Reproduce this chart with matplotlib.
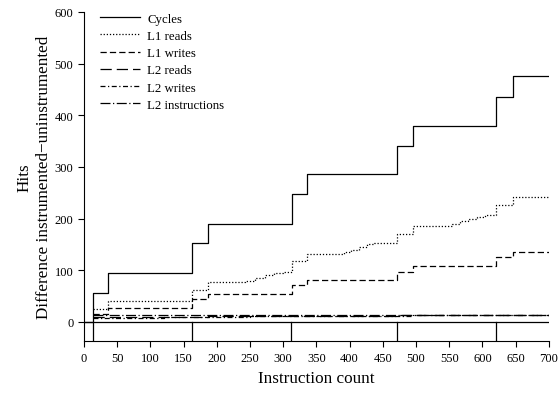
import matplotlib
matplotlib.use("Agg")
import matplotlib.pyplot as plt

plt.rcParams['font.family'] = ['Liberation Serif', 'DejaVu Serif']

# ---- data ----
cyc_x = [0, 14, 37, 163, 187, 313, 336, 471, 496, 621, 646, 700]
cyc_y = [0, 57, 95, 153, 190, 248, 287, 341, 380, 436, 476, 476]

l1r_x = [14, 37, 163, 187, 243, 258, 272, 286, 300, 313, 336, 391, 402, 414, 426, 437, 471, 496, 554, 566, 578, 592, 604, 621, 646, 700]
l1r_y = [25, 41, 62, 77, 80, 85, 90, 94, 97, 118, 132, 135, 140, 145, 150, 153, 171, 186, 190, 195, 200, 204, 207, 226, 242, 242]

l1w_x = [14, 37, 163, 187, 313, 336, 471, 496, 621, 646, 700]
l1w_y = [15, 27, 45, 54, 71, 81, 97, 108, 125, 136, 136]

l2r_x = [14, 37, 163, 187, 313, 336, 471, 496, 621, 646, 700]
l2r_y = [9, 10, 10, 11, 12, 12, 13, 13, 14, 14, 14]

l2w_x = [14, 37, 120, 163, 187, 250, 313, 336, 471, 496, 621, 646, 700]
l2w_y = [7, 8, 9, 9, 10, 11, 11, 12, 12, 13, 13, 14, 14]

l2i_x = [14, 700]
l2i_y = [13, 13]

marks_x = [14, 163, 312, 471, 621]

xticks = list(range(0, 701, 50))
yticks = list(range(0, 601, 100))

# ---- figure ----
fig = plt.figure(figsize=(5.59, 4.02), dpi=100)
ax = fig.add_axes([0.150, 0.149, 0.832, 0.819])

lw = 0.9
ax.step(cyc_x, cyc_y, where='post', color='black', lw=lw, ls='-', label='Cycles')
ax.step(l1r_x, l1r_y, where='post', color='black', lw=lw, ls=(0, (1, 1.5)), label='L1 reads')
ax.step(l1w_x, l1w_y, where='post', color='black', lw=lw, ls=(0, (5, 2.5)), label='L1 writes')
ax.step(l2r_x, l2r_y, where='post', color='black', lw=lw, ls=(0, (9, 4)), label='L2 reads')
ax.step(l2w_x, l2w_y, where='post', color='black', lw=lw, ls=(0, (4, 2, 1, 2)), label='L2 writes')
ax.step(l2i_x, l2i_y, where='post', color='black', lw=lw, ls=(0, (8, 2, 1, 2)), label='L2 instructions')

# baseline and markers
ax.axhline(0, color='black', lw=lw)
for mx in marks_x:
    ax.plot([mx, mx], [-37, 0], color='black', lw=lw)

ax.set_xlim(0, 700)
ax.set_ylim(-37, 600)
ax.set_xticks(xticks)
ax.set_yticks(yticks)
ax.tick_params(labelsize=9, direction='out', length=4, width=0.8)
for s in ['top', 'right']:
    ax.spines[s].set_visible(False)
for s in ['left', 'bottom']:
    ax.spines[s].set_linewidth(0.8)

ax.set_xlabel('Instruction count', fontsize=12.3, labelpad=5)
ax.set_ylabel('Hits\nDifference instrumented\u2212uninstrumented', fontsize=12.3, labelpad=2, linespacing=1.3)

leg = ax.legend(loc='upper left', bbox_to_anchor=(0.015, 1.025), frameon=False, fontsize=9.3,
                handlelength=3.1, handletextpad=0.55, labelspacing=0.4, borderaxespad=0.3)

fig.savefig('out.png', dpi=100)
